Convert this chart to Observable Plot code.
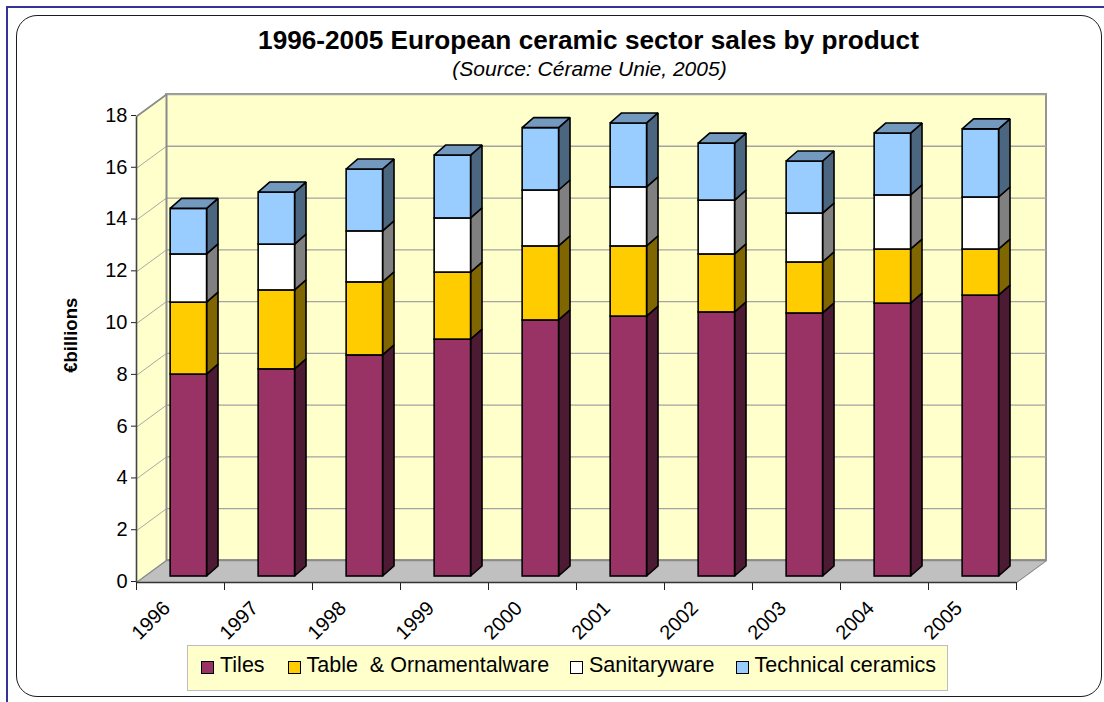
<!DOCTYPE html>
<html>
<head>
<meta charset="utf-8">
<script src="https://cdn.jsdelivr.net/npm/d3@7"></script>
<script src="https://cdn.jsdelivr.net/npm/@observablehq/plot@0.6"></script>
<style>
  html, body { margin: 0; padding: 0; background: #fff; width: 1104px; height: 702px; overflow: hidden; }
  body { position: relative; font-family: "Liberation Sans", Arial, sans-serif; color: #000; }
  .blueTop { position: absolute; left: 6px; top: 6px; width: 1098px; height: 2px; background: #333399; }
  .blueLeft { position: absolute; left: 6px; top: 6px; width: 2px; height: 696px; background: #333399; }
  .frame { position: absolute; left: 16px; top: 15px; width: 1084px; height: 680px; border: 1.5px solid #1c1c1c; border-radius: 21px; box-sizing: content-box; }
  .title { position: absolute; left: 78px; width: 1021px; top: 24px; text-align: center; font-weight: bold; font-size: 26.2px; line-height: 32px; }
  .subtitle { position: absolute; left: 79px; width: 1021px; top: 56px; text-align: center; font-style: italic; font-size: 21px; line-height: 26px; }
  #chart { position: absolute; left: 0; top: 85px; }
  #chart svg { display: block; }
  .legend { position: absolute; left: 187px; top: 645px; width: 759px; height: 44px; background: #FFFFCC; border: 1.5px solid #BDBDBD; }
  .item { position: absolute; top: 0; height: 44px; line-height: 38px; font-size: 21.5px; white-space: pre; }
  .sw { position: absolute; top: 15px; width: 11px; height: 11px; border: 1.2px solid #000; }
</style>
</head>
<body>
<div class="blueTop"></div>
<div class="blueLeft"></div>
<div class="frame"></div>
<div class="title">1996-2005 European ceramic sector sales by product</div>
<div class="subtitle">(Source: Cérame Unie, 2005)</div>
<div id="chart"></div>
<div class="legend" id="legend"></div>
<script>
const years = ["1996","1997","1998","1999","2000","2001","2002","2003","2004","2005"];
const seriesNames = ["Tiles","Table  & Ornamentalware","Sanitaryware","Technical ceramics"];
const tiles =     [7.80, 8.00, 8.54, 9.15, 9.89, 10.04, 10.20, 10.16, 10.54, 10.85];
const tableware = [2.78, 3.05, 2.82, 2.59, 2.86, 2.71, 2.24, 1.97, 2.09, 1.78];
const sanitary =  [1.86, 1.77, 1.97, 2.09, 2.16, 2.28, 2.08, 1.89, 2.09, 2.01];
const technical = [1.76, 2.01, 2.39, 2.43, 2.41, 2.47, 2.20, 2.01, 2.39, 2.63];
const frontColors = ["#993366","#FFCC00","#FFFFFF","#99CCFF"];
const sideColors  = ["#4D1A33","#806600","#808080","#4D6680"];
const topColor = "#7399BF";
const yTicks = [0,2,4,6,8,10,12,14,16,18];

// chart geometry in scale units
const wallDX = 0.341, wallDY = 0.85;          // depth of the floor / back wall
const barX0 = 0.388, barX1 = 0.802;           // front face within a category
const barBase = 0.232;                        // raised front base
const barDX = 0.130, barDY = 0.386;           // depth of a bar
const xMax = years.length, yMax = 18;

const all = [tiles, tableware, sanitary, technical];
const layers = all.map((vals, s) => vals.map((v, i) => {
  const prev = d3.sum(all.slice(0, s), a => a[i]);
  return {i, lo: barBase + prev, hi: barBase + prev + v};
}));

const marks = [];
const wallColor = "#FFFFCC", edge = "#8a8a8a";

// back wall, side wall, floor
marks.push(Plot.rect([0], {x1: () => wallDX, x2: () => xMax + wallDX, y1: () => wallDY, y2: () => yMax + wallDY, fill: wallColor, stroke: edge, strokeWidth: 1.8}));
marks.push(Plot.area([{x: 0, a: 0, b: yMax}, {x: wallDX, a: wallDY, b: yMax + wallDY}], {x1: "x", y1: "a", y2: "b", fill: wallColor, stroke: "none"}));
marks.push(Plot.area([{y: 0, a: 0, b: xMax}, {y: wallDY, a: wallDX, b: xMax + wallDX}], {y1: "y", x1: "a", x2: "b", fill: "#C0C0C0", stroke: "none"}));

// gridlines
marks.push(Plot.link(yTicks.slice(1), {x1: wallDX, x2: xMax + wallDX, y1: t => t + wallDY, y2: t => t + wallDY, stroke: "#a3a3a3", strokeWidth: 1.3}));
marks.push(Plot.link(yTicks.slice(1), {x1: 0, x2: wallDX, y1: t => t, y2: t => t + wallDY, stroke: "#a8a8a8", strokeWidth: 1}));
marks.push(Plot.link([yMax], {x1: 0, x2: wallDX, y1: t => t, y2: t => t + wallDY, stroke: edge, strokeWidth: 1.6}));
marks.push(Plot.link([0], {x1: wallDX, x2: wallDX, y1: wallDY, y2: yMax + wallDY, stroke: edge, strokeWidth: 2}));
marks.push(Plot.link([0], {x1: wallDX, x2: xMax + wallDX, y1: wallDY, y2: wallDY, stroke: edge, strokeWidth: 1.4}));
marks.push(Plot.link([0, xMax], {x1: d => d, x2: d => d + wallDX, y1: 0, y2: wallDY, stroke: edge, strokeWidth: 1.2}));

// bars
const barStroke = {stroke: "#000", strokeWidth: 1.6, strokeLinejoin: "miter"};
layers.forEach((rows, s) => {
  const sideRows = rows.flatMap(d => [
    {k: d.i, x: d.i + barX1, a: d.lo, b: d.hi},
    {k: d.i, x: d.i + barX1 + barDX, a: d.lo + barDY, b: d.hi + barDY}
  ]);
  marks.push(Plot.area(sideRows, {x1: "x", y1: "a", y2: "b", z: "k", fill: sideColors[s], ...barStroke}));
  marks.push(Plot.rect(rows, {x1: d => d.i + barX0, x2: d => d.i + barX1, y1: "lo", y2: "hi", fill: frontColors[s], ...barStroke}));
});
const topRows = layers[layers.length - 1].flatMap(d => [
  {k: d.i, y: d.hi, a: d.i + barX0, b: d.i + barX1},
  {k: d.i, y: d.hi + barDY, a: d.i + barX0 + barDX, b: d.i + barX1 + barDX}
]);
marks.push(Plot.area(topRows, {y1: "y", x1: "a", x2: "b", z: "k", fill: topColor, ...barStroke}));

// axes
marks.push(Plot.axisY({ticks: yTicks, tickSize: 5, tickPadding: 4, fontSize: 20, dy: -1, label: null, stroke: "#222", fill: "#000", fontFamily: "Liberation Sans"}));
marks.push(Plot.axisX({ticks: d3.range(0, xMax + 1), tickSize: 8, label: null, fill: "none", stroke: "#222"}));
marks.push(Plot.link([0], {x1: 0, x2: 0, y1: 0, y2: yMax, stroke: "#444", strokeWidth: 1.6}));
marks.push(Plot.link([0], {x1: 0, x2: xMax, y1: 0, y2: 0, stroke: "#333", strokeWidth: 1.4}));

// rotated year labels
marks.push(Plot.text(years, {x: (d, i) => i + 0.165, y: -1.47, text: d => d, rotate: -45, fontSize: 20, fill: "#000", fontFamily: "Liberation Sans"}));
// y axis title
marks.push(Plot.text(["€billions"], {x: -0.74, y: 9.55, text: d => d, rotate: -90, fontSize: 18.5, fontWeight: "bold", fill: "#000", fontFamily: "Liberation Sans"}));

const plot = Plot.plot({
  width: 1104,
  height: 560,
  marginLeft: 136,
  marginRight: 88,
  marginTop: 31,
  marginBottom: 63,
  x: {type: "linear", domain: [0, xMax], axis: null},
  y: {type: "linear", domain: [0, yMax], axis: null},
  style: {background: "transparent", fontFamily: "Liberation Sans", overflow: "visible"},
  marks
});
document.getElementById("chart").appendChild(plot);

// legend
const swatchLeft = [12.5, 99.5, 382, 548];
const textLeft = [32, 118.5, 401, 566.5];
const legend = document.getElementById("legend");
seriesNames.forEach((name, i) => {
  const sw = document.createElement("div");
  sw.className = "sw";
  sw.style.left = swatchLeft[i] + "px";
  sw.style.background = frontColors[i];
  legend.appendChild(sw);
  const t = document.createElement("div");
  t.className = "item";
  t.style.left = textLeft[i] + "px";
  t.textContent = name;
  legend.appendChild(t);
});
</script>
</body>
</html>
